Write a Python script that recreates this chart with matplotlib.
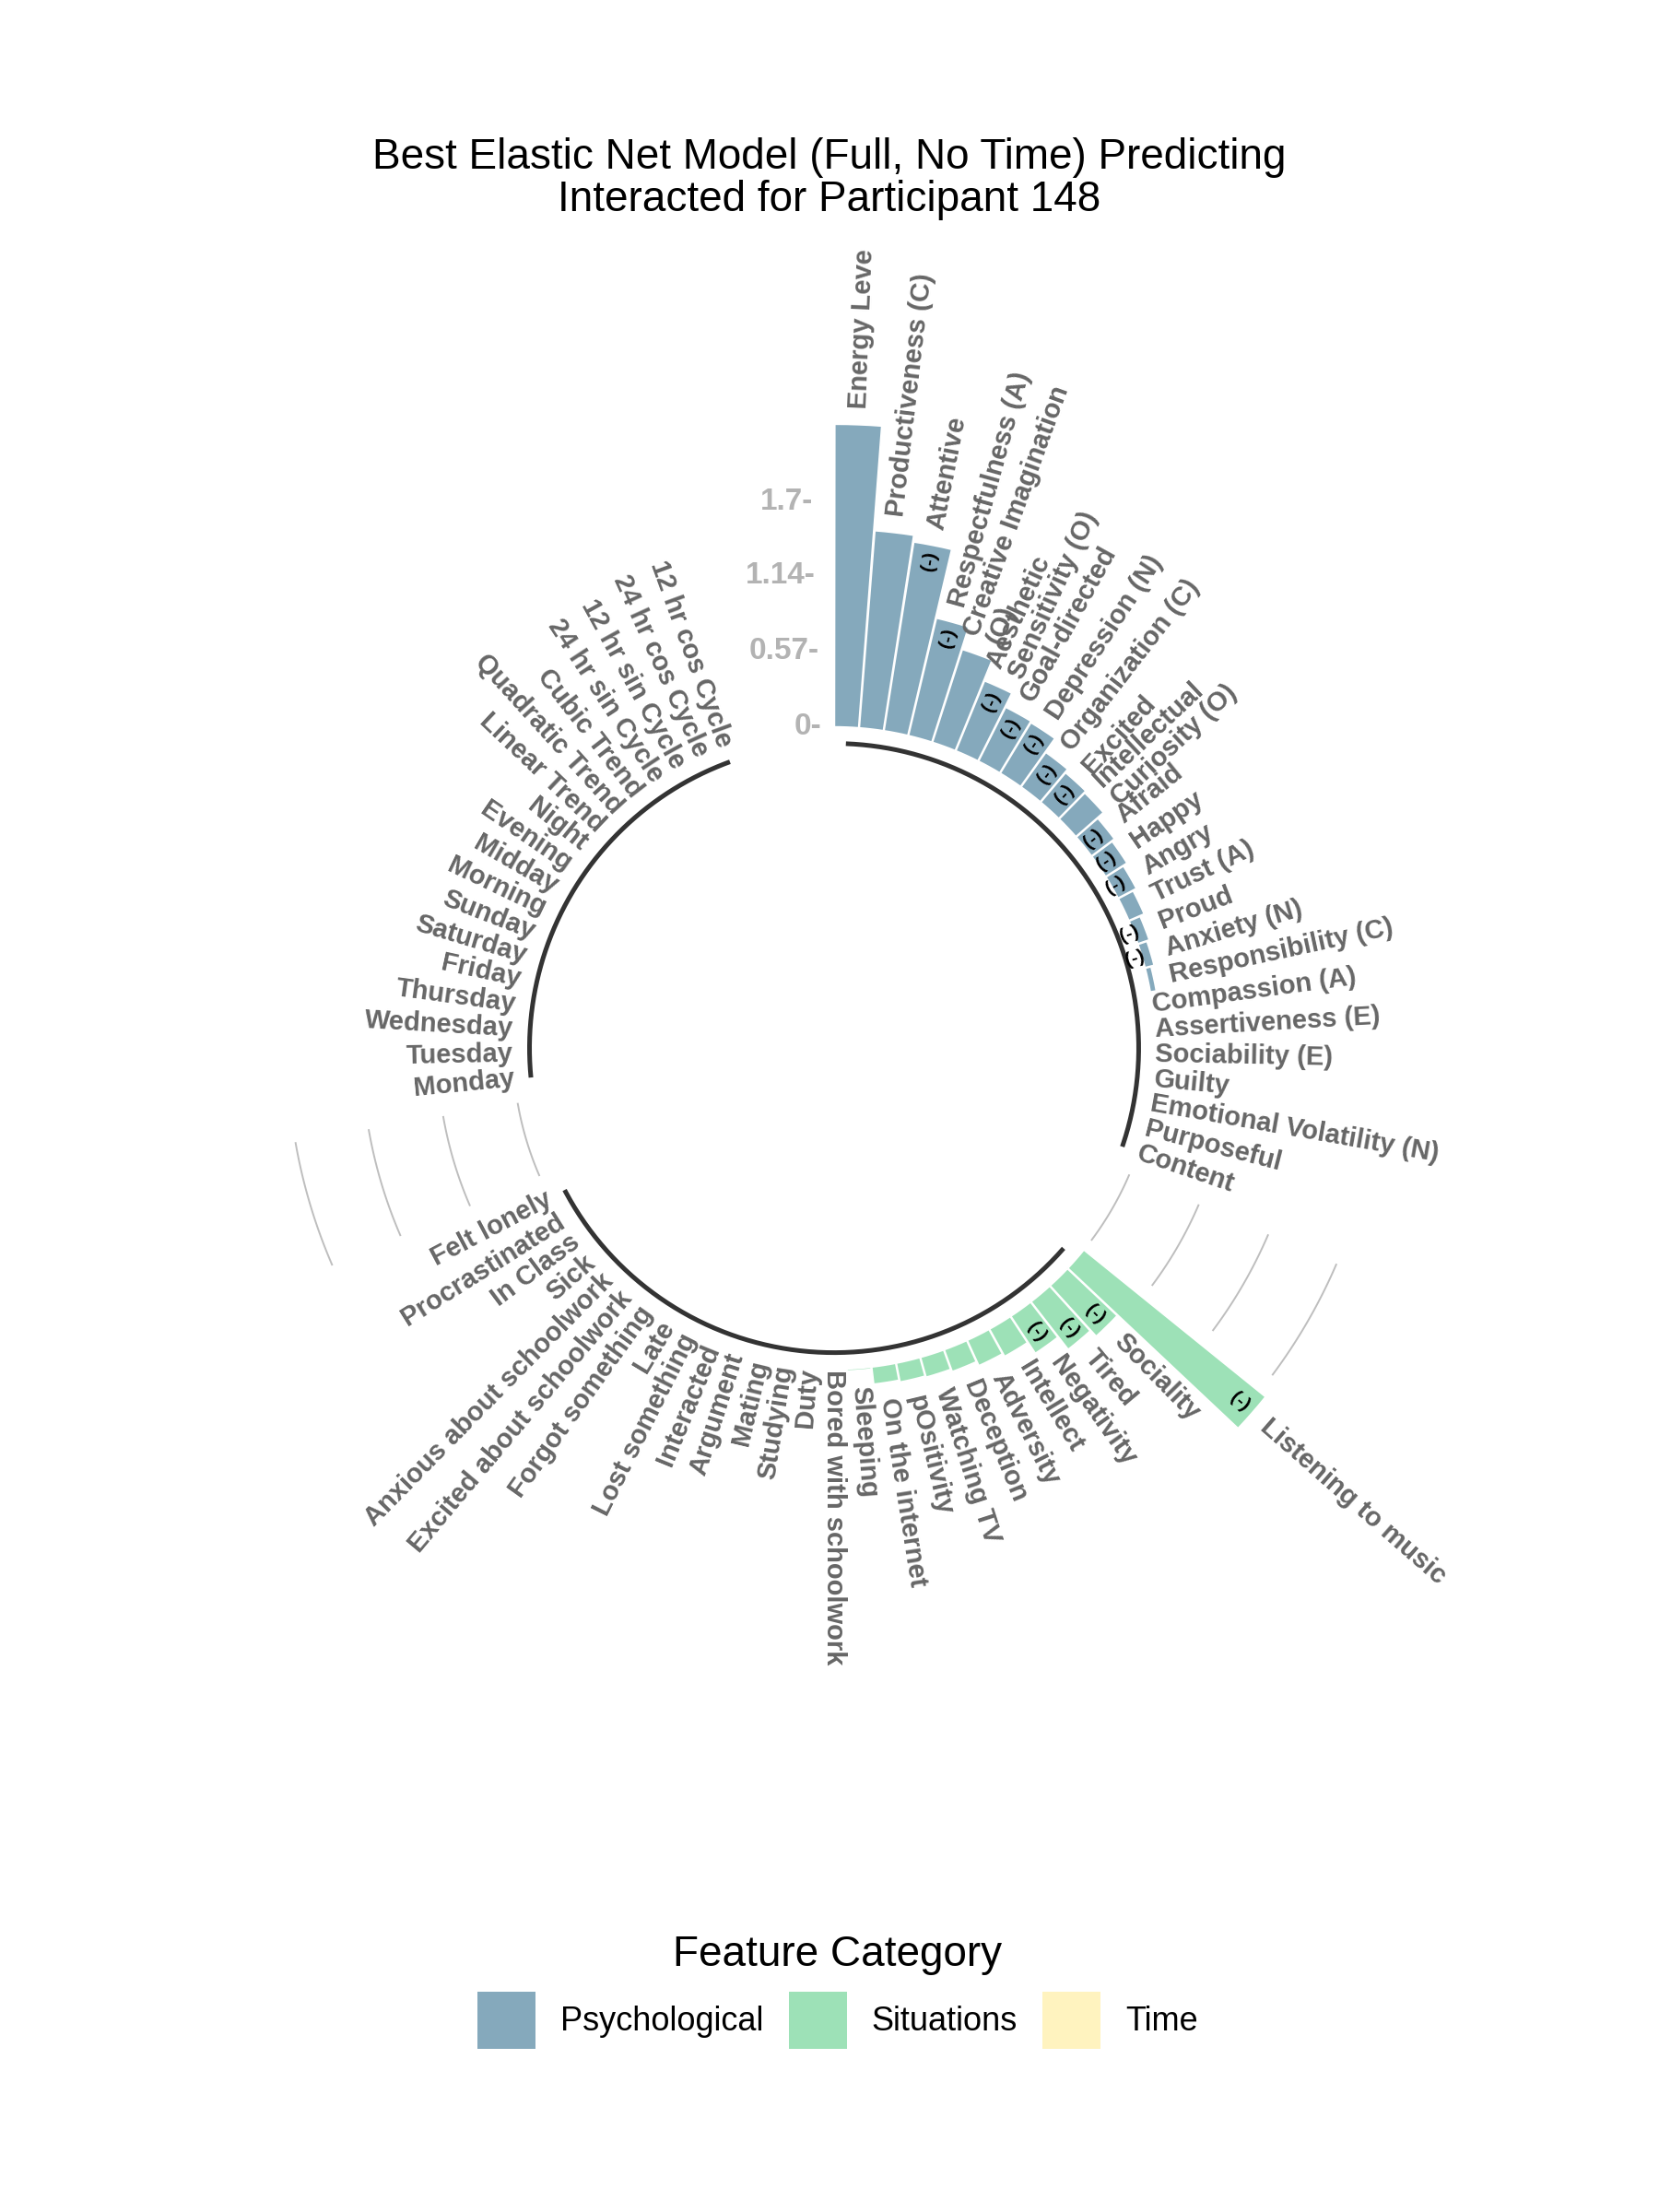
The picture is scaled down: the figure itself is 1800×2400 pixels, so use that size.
import numpy as np
import matplotlib.pyplot as plt
from matplotlib.patches import Patch

plt.rcParams['font.family'] = ['Liberation Sans', 'DejaVu Sans']

# coefficients (sign -> "(-)" marker)
psych_names = ["Energy Leve", "Productiveness (C)", "Attentive", "Respectfulness (A)",
               "Creative Imagination\n(O)", "Aesthetic\nSensitivity (O)", "Goal-directed",
               "Depression (N)", "Organization (C)", "Excited", "Intellectual\nCuriosity (O)",
               "Afraid", "Happy", "Angry", "Trust (A)", "Proud", "Anxiety (N)",
               "Responsibility (C)", "Compassion (A)", "Assertiveness (E)", "Sociability (E)",
               "Guilty", "Emotional Volatility (N)", "Purposeful", "Content"]
psych_coef = [2.28, 1.49, -1.44, -0.91, 0.735, -0.57, -0.455, -0.445, -0.32, -0.29, 0.275,
              -0.215, -0.19, -0.155, 0.125, -0.09, -0.07, 0.045, 0, 0, 0, 0, 0, 0, 0]

situ_names = ["Listening to music", "Sociality", "Tired", "Negativity", "Intellect",
              "Adversity", "Deception", "Watching TV", "pOsitivity", "On the internet",
              "Sleeping", "Bored with schoolwork", "Duty", "Studying", "Mating", "Argument",
              "Interacted", "Lost something", "Late", "Forgot something",
              "Excited about schoolwork", "Anxious about schoolwork", "Sick", "In Class",
              "Procrastinated", "Felt lonely"]
situ_coef = [-1.76, -0.515, -0.455, -0.335, 0.235, 0.21, 0.175, 0.155, 0.145, 0.13, 0.015,
             0, 0, 0, 0, 0, 0, 0, 0, 0, 0, 0, 0, 0, 0, 0]

time_names = ["Monday", "Tuesday", "Wednesday", "Thursday", "Friday", "Saturday", "Sunday",
              "Morning", "Midday", "Evening", "Night", "Linear Trend", "Quadratic Trend",
              "Cubic Trend", "24 hr sin Cycle", "12 hr sin Cycle", "24 hr cos Cycle",
              "12 hr cos Cycle"]
time_coef = [0] * 18

group_names = ["Psychological", "Situations", "Time"]
group_colors = ["#85A9BC", "#9DE1B7", "#FFF3BF"]
y_ticks = [0, 0.57, 1.14, 1.7]
y_tick_labels = ["0-", "0.57-", "1.14-", "1.7-"]

empty_bar = 4
groups = [(psych_names, psych_coef), (situ_names, situ_coef), (time_names, time_coef)]
n_total = sum(len(n) for n, c in groups) + empty_bar * len(groups)
step = 2 * np.pi / n_total


def theta(i):
    return (i - 0.5) * step


fig = plt.figure(figsize=(18, 24), dpi=100)
ax = fig.add_axes([0.06917, 0.2010, 0.8672, 0.6504], projection='polar')
ax.set_theta_zero_location('N')
ax.set_theta_direction(-1)
ax.set_rlim(-2.42, 3.0)
ax.axis('off')

label_col = "#666666"
idx = 1
spans = []
for g, (names, coef) in enumerate(groups):
    start = idx
    ids = np.arange(idx, idx + len(names))
    vals = np.abs(np.array(coef, dtype=float))
    ax.bar(theta(ids), vals, width=step * 0.97, bottom=0, color=group_colors[g],
           edgecolor='white', linewidth=1.2)
    for i, name, c, v in zip(ids, names, coef, vals):
        deg = np.degrees(theta(i))
        rot = 90 - deg
        if rot < -90:
            ha = 'right'
            rot += 180
        else:
            ha = 'left'
        r_lab = v + 0.12 if v > 0 else 0
        ax.text(theta(i), r_lab, name, rotation=rot, rotation_mode='anchor', ha=ha,
                va='center', fontsize=21, fontweight='bold', color=label_col,
                linespacing=0.95, clip_on=False)
        if c < 0:
            ax.text(theta(i), v - 0.125, "(-)", rotation=rot, rotation_mode='anchor',
                    ha='center', va='center', fontsize=15, fontweight='bold',
                    color='black', clip_on=False)
    end = idx + len(names) - 1
    spans.append((start, end))
    idx = end + 1 + empty_bar

# base lines under each group
for start, end in spans:
    th = np.linspace(theta(start), theta(end), 200)
    ax.plot(th, np.full_like(th, -0.125), color='#333333', lw=3.6, solid_capstyle='butt')

# grid arcs in the gaps before group 2 and 3
for k in range(1, len(spans)):
    th = np.linspace(theta(spans[k - 1][1] + 1), theta(spans[k][0] - 1), 100)
    for y in y_ticks:
        ax.plot(th, np.full_like(th, y), color='#BEBEBE', lw=1.4)

# value labels in the last gap
for y, lab in zip(y_ticks, y_tick_labels):
    ax.text(theta(n_total), y, lab, ha='right', va='center', fontsize=24,
            fontweight='bold', color='#B3B3B3', clip_on=False)

fig.text(0.500, 0.919, "Best Elastic Net Model (Full, No Time) Predicting\n"
         "Interacted for Participant 148", ha='center', va='center', fontsize=33,
         linespacing=1.06)

handles = [Patch(facecolor=c, edgecolor='none') for c in group_colors]
fig.legend(handles, group_names, loc='center', bbox_to_anchor=(0.505, 1 - 2161 / 2400),
           ncol=3, title="Feature Category", fontsize=26, title_fontsize=33,
           frameon=False, handlelength=1.75, handleheight=2.3, handletextpad=0.75,
           columnspacing=0.75)

fig.savefig("out.png", dpi=100)
